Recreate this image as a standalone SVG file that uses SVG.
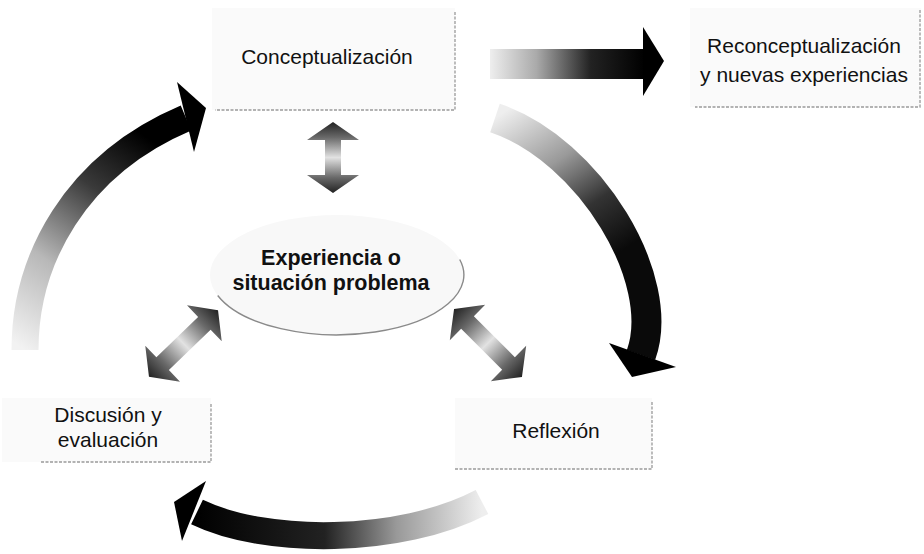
<svg xmlns="http://www.w3.org/2000/svg" width="924" height="554" viewBox="0 0 924 554">
<style>
  .box { fill: #fafafa; stroke: none; }
  .edge { fill: none; stroke: #9a9a9a; stroke-width: 1.3; stroke-dasharray: 3 1.5; }
  .lbl { font-family: "Liberation Sans", Arial, sans-serif; font-size: 21px; fill: #111; text-anchor: middle; }
  .bold { font-weight: bold; font-size: 21.5px; }
  .head { fill: #000; }
  .dbl { fill: url(#gDbl); }
</style>
<defs>
  <linearGradient id="gDbl" x1="0" y1="0" x2="1" y2="0">
    <stop offset="0" stop-color="#222"/>
    <stop offset="0.22" stop-color="#6a6a6a"/>
    <stop offset="0.5" stop-color="#e2e2e2"/>
    <stop offset="0.78" stop-color="#6a6a6a"/>
    <stop offset="1" stop-color="#222"/>
  </linearGradient>
  <linearGradient id="gLeft" gradientUnits="userSpaceOnUse" x1="25" y1="350" x2="190" y2="115">
    <stop offset="0" stop-color="#f2f2f2"/>
    <stop offset="0.3" stop-color="#b8b8b8"/>
    <stop offset="0.6" stop-color="#3a3a3a"/>
    <stop offset="0.85" stop-color="#000"/>
  </linearGradient>
  <linearGradient id="gRight" gradientUnits="userSpaceOnUse" x1="495" y1="118" x2="648" y2="350">
    <stop offset="0" stop-color="#eeeeee"/>
    <stop offset="0.25" stop-color="#9a9a9a"/>
    <stop offset="0.45" stop-color="#333"/>
    <stop offset="0.65" stop-color="#0a0a0a"/>
  </linearGradient>
  <linearGradient id="gTop" gradientUnits="userSpaceOnUse" x1="490" y1="0" x2="645" y2="0">
    <stop offset="0" stop-color="#eeeeee"/>
    <stop offset="0.3" stop-color="#aaa"/>
    <stop offset="0.65" stop-color="#222"/>
    <stop offset="1" stop-color="#000"/>
  </linearGradient>
  <linearGradient id="gBottom" gradientUnits="userSpaceOnUse" x1="482" y1="505" x2="195" y2="512">
    <stop offset="0" stop-color="#eeeeee"/>
    <stop offset="0.3" stop-color="#999"/>
    <stop offset="0.55" stop-color="#222"/>
    <stop offset="1" stop-color="#000"/>
  </linearGradient>
</defs>
<rect width="924" height="554" fill="#fff"/>

<g id="node-conceptualizacion">
  <rect class="box" x="212" y="8" width="243" height="102"/>
  <path class="edge" d="M455 12 V110 H215"/>
  <text class="lbl" x="327" y="64" font-size="20">Conceptualización</text>
</g>

<g id="node-reconceptualizacion">
  <rect class="box" x="690" y="8" width="231" height="99"/>
  <path class="edge" d="M920 10 V107 H695"/>
  <text class="lbl" x="804" y="53">Reconceptualización</text>
  <text class="lbl" x="804" y="82">y nuevas experiencias</text>
</g>

<g id="node-experiencia">
  <ellipse cx="337" cy="275" rx="127" ry="60" fill="#f8f8f8"/>
  <path d="M217.7 295.5 A127 60 0 0 0 459.7 259.5" fill="none" stroke="#8a8a8a" stroke-width="1.4"/>
  <text class="lbl bold" x="331" y="265">Experiencia o</text>
  <text class="lbl bold" x="331" y="290">situación problema</text>
</g>

<g id="node-discusion">
  <rect class="box" x="2" y="398" width="209" height="64"/>
  <path class="edge" d="M211 404 V462 H40"/>
  <text class="lbl" x="108" y="422">Discusión y</text>
  <text class="lbl" x="108" y="447">evaluación</text>
</g>

<g id="node-reflexion">
  <rect class="box" x="455" y="398" width="197" height="71"/>
  <path class="edge" d="M652 402 V469 H455"/>
  <text class="lbl" x="556" y="438">Reflexión</text>
</g>

<g id="connectors">
  <!-- left arc: Discusión -> Conceptualización -->
  <path d="M25 350 C25 260 75 165 186 118" fill="none" stroke="url(#gLeft)" stroke-width="27"/>
  <polygon class="head" points="177,82 206,108 194,152"/>
  <!-- right arc: Conceptualización -> Reflexión -->
  <path d="M495 118 C590 150 668 280 641 355" fill="none" stroke="url(#gRight)" stroke-width="30"/>
  <polygon class="head" points="609,343 676,367 632,377"/>
  <!-- top straight arrow -->
  <rect x="490" y="49" width="155" height="30" fill="url(#gTop)"/>
  <polygon class="head" points="643,27 664,61 643,96"/>
  <!-- bottom arc: Reflexión -> Discusión -->
  <path d="M482 502 C400 545 265 545 197 512" fill="none" stroke="url(#gBottom)" stroke-width="27"/>
  <polygon class="head" points="206,481 174,502 182,541"/>
  <!-- double arrows -->
  <path class="dbl" transform="translate(333 157.5) rotate(90)" d="M-35.5 0 L-17.5 -26 L-17.5 -8 L17.5 -8 L17.5 -26 L35.5 0 L17.5 26 L17.5 8 L-17.5 8 L-17.5 26 Z"/>
  <path class="dbl" transform="translate(183.5 343.5) rotate(-44)" d="M-48 0 L-29 -25 L-29 -9 L29 -9 L29 -25 L48 0 L29 25 L29 9 L-29 9 L-29 25 Z"/>
  <path class="dbl" transform="translate(488 343) rotate(45)" d="M-48 0 L-29 -25 L-29 -9 L29 -9 L29 -25 L48 0 L29 25 L29 9 L-29 9 L-29 25 Z"/>
</g>
</svg>
